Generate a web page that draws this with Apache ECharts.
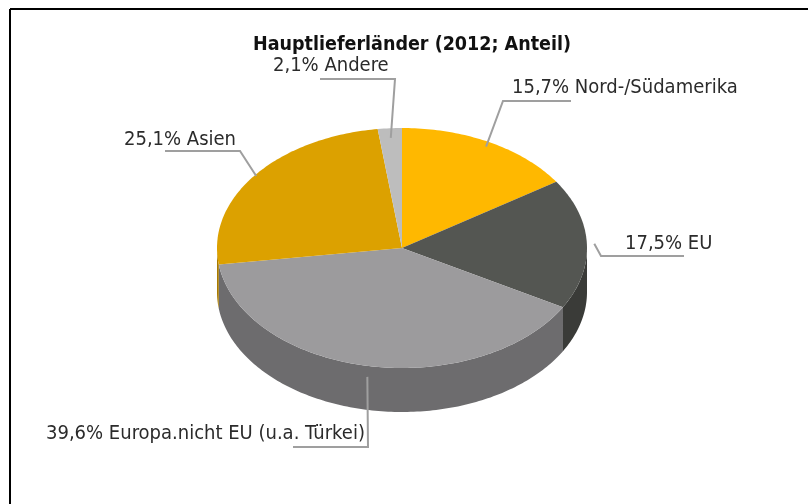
<!DOCTYPE html>
<html>
<head>
<meta charset="utf-8">
<script src="https://cdn.jsdelivr.net/npm/echarts@6/dist/echarts.min.js"></script>
<style>
  html, body { margin: 0; padding: 0; background: #fff; }
  #chart { width: 808px; height: 504px; }
</style>
</head>
<body>
<div id="chart"></div>
<script>
// ---- data ----
const categories = ['Nord-/Südamerika', 'EU', 'Europa.nicht EU (u.a. Türkei)', 'Asien', 'Andere'];
const shares = [15.7, 17.5, 39.6, 25.1, 2.1];
const title = 'Hauptlieferländer (2012; Anteil)';

// ---- styles ----
const topColors  = ['#FFB800', '#545652', '#9C9B9D', '#DCA100', '#BDBDBD'];
const sideColors = ['#C99100', '#3A3B38', '#6D6C6E', '#A87A00', '#8F8F8F'];

// ---- layout (pixels) ----
const CX = 402, CY = 248, RX = 185, RY = 120, DEPTH = 44;
// leader start radius factor, elbow of leader line, end x of underline, label text left x / middle y
const labelStartK = [0.96, 1.04, 1, 0.99, 0.92];
const labelElbow = [[503, 101], [601, 256], [368, 447], [240, 151], [395, 79]];
const labelLineEndX = [571, 684, 293, 165, 320];
const labelText = [[512, 88], [625, 244], [46, 434], [124, 140], [273, 66]];

const total = shares.reduce((a, b) => a + b, 0);
const cum = [];
shares.reduce((acc, v, i) => { cum[i] = acc; return acc + v; }, 0);

function pt(theta, k, dy) {
  return [CX + RX * k * Math.sin(theta), CY - RY * k * Math.cos(theta) + (dy || 0)];
}
function fmt(v) { return v.toFixed(1).replace('.', ',') + '%'; }

function renderItem(params, api) {
  const i = params.dataIndex;
  const v = api.value(0);
  const a0 = cum[i] / total * Math.PI * 2;
  const a1 = a0 + v / total * Math.PI * 2;
  const children = [];
  const N = 120;

  // side wall (visible between 90° and 270°)
  const s0 = Math.max(a0, Math.PI / 2), s1 = Math.min(a1, Math.PI * 1.5);
  if (s1 > s0) {
    const pts = [];
    const n = Math.max(2, Math.ceil((s1 - s0) / (Math.PI * 2) * N * 3));
    for (let j = 0; j <= n; j++) pts.push(pt(s0 + (s1 - s0) * j / n, 1, 0));
    for (let j = n; j >= 0; j--) pts.push(pt(s0 + (s1 - s0) * j / n, 1, DEPTH));
    children.push({ type: 'polygon', shape: { points: pts }, style: { fill: sideColors[i] }, z2: 1 });
  }
  // top face
  const tp = [[CX, CY]];
  const m = Math.max(2, Math.ceil((a1 - a0) / (Math.PI * 2) * N * 3));
  for (let j = 0; j <= m; j++) tp.push(pt(a0 + (a1 - a0) * j / m, 1, 0));
  children.push({ type: 'polygon', shape: { points: tp }, style: { fill: topColors[i] }, z2: 2 });

  // leader line
  const mid = (a0 + a1) / 2;
  const lower = Math.cos(mid) < -0.3;
  const start = pt(mid, labelStartK[i], lower ? DEPTH * 0.25 : 0);
  const el = labelElbow[i];
  children.push({
    type: 'polyline',
    shape: { points: [start, el, [labelLineEndX[i], el[1]]] },
    style: { stroke: '#9F9F9F', lineWidth: 2, fill: null },
    z2: 10
  });
  children.push({
    type: 'text',
    x: labelText[i][0], y: labelText[i][1],
    style: {
      text: fmt(v) + ' ' + categories[i],
      fill: '#2B2B2B',
      font: '20px "DejaVu Sans Condensed", "DejaVu Sans"',
      textAlign: 'left', textVerticalAlign: 'middle'
    },
    z2: 11
  });
  return { type: 'group', children };
}

const chart = echarts.init(document.getElementById('chart'), null, { renderer: 'canvas' });
chart.setOption({
  backgroundColor: '#ffffff',
  animation: false,
  graphic: [
    { type: 'line', shape: { x1: 10, y1: 9, x2: 808, y2: 9 }, style: { stroke: '#000', lineWidth: 2 } },
    { type: 'line', shape: { x1: 10, y1: 9, x2: 10, y2: 504 }, style: { stroke: '#000', lineWidth: 2 } },
    { type: 'text', x: 412, y: 45, style: {
        text: title, fill: '#111',
        font: 'bold 19.5px "DejaVu Sans Condensed", "DejaVu Sans"',
        textAlign: 'center', textVerticalAlign: 'middle' } }
  ],
  series: [{
    type: 'custom',
    coordinateSystem: 'none',
    renderItem: renderItem,
    data: shares.map((v, i) => ({ name: categories[i], value: [v] }))
  }]
});
</script>
</body>
</html>
